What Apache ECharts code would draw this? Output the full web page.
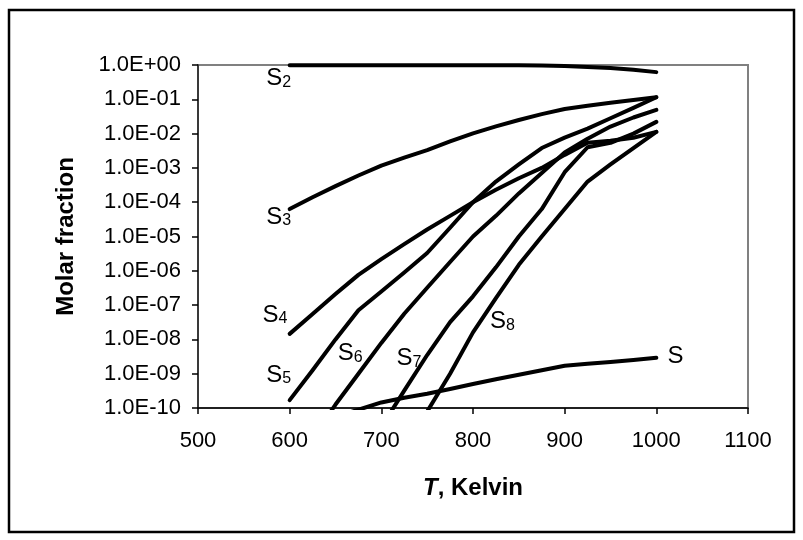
<!DOCTYPE html>
<html><head><meta charset="utf-8">
<script src="https://cdn.jsdelivr.net/npm/echarts@6/dist/echarts.min.js"></script>
<style>html,body{margin:0;padding:0;background:#fff}#c{width:803px;height:540px}</style>
</head><body><div id="c"></div>
<script>
// Temperature grid (K)
const temps = [600,625,650,675,700,725,750,775,800,825,850,875,900,925,950,975,1000];
// Molar fractions (null = not drawn)
const S2 = [0.98,0.98,0.98,0.98,0.98,0.98,0.98,0.98,0.98,0.98,0.98,0.97,0.93,0.88,0.82,0.73,0.62];
const S3 = [6.3e-5,1.4e-4,2.95e-4,6.0e-4,1.17e-3,2.0e-3,3.3e-3,5.9e-3,1.02e-2,1.62e-2,2.5e-2,3.7e-2,5.2e-2,6.5e-2,7.9e-2,9.5e-2,1.15e-1];
const S4 = [1.45e-8,5.5e-8,2.1e-7,7.6e-7,2.2e-6,6.0e-6,1.6e-5,4.0e-5,1.0e-4,2.3e-4,5.0e-4,1.0e-3,2.4e-3,5.4e-3,6.2e-3,7.6e-3,1.12e-2];
const S5 = [1.7e-10,1.26e-9,1.0e-8,7.1e-8,2.5e-7,8.9e-7,3.3e-6,1.8e-5,1.0e-4,4.0e-4,1.26e-3,3.8e-3,7.6e-3,1.4e-2,2.8e-2,5.6e-2,1.15e-1];
const S6 = [null,1.3e-11,1.26e-10,1.0e-9,7.9e-9,5.6e-8,3.2e-7,1.8e-6,1.0e-5,4.0e-5,1.8e-4,7.1e-4,2.8e-3,7.1e-3,1.6e-2,2.95e-2,4.9e-2];
const S7 = [null,null,null,null,2.8e-11,3.2e-10,3.5e-9,3.2e-8,1.8e-7,1.26e-6,1.0e-5,6.3e-5,7.5e-4,4.0e-3,5.4e-3,1.0e-2,2.2e-2];
const S8 = [null,null,null,null,null,6.3e-12,7.9e-11,1.0e-9,1.6e-8,1.6e-7,1.5e-6,1.0e-5,6.3e-5,4.0e-4,1.26e-3,3.8e-3,1.12e-2];
const S1 = [null,null,5.6e-11,8.9e-11,1.45e-10,2.0e-10,2.6e-10,3.6e-10,5.0e-10,6.9e-10,9.3e-10,1.26e-9,1.7e-9,1.95e-9,2.2e-9,2.5e-9,2.9e-9];
// Tick labels
const xTicks = [500,600,700,800,900,1000,1100];
const yTickLabels = ['1.0E-10','1.0E-09','1.0E-08','1.0E-07','1.0E-06','1.0E-05','1.0E-04','1.0E-03','1.0E-02','1.0E-01','1.0E+00'];
// Series names and their subscripts
const seriesNames = ['S2','S3','S4','S5','S6','S7','S8','S'];
const seriesSubs  = ['2','3','4','5','6','7','8',''];
const seriesData  = [S2,S3,S4,S5,S6,S7,S8,S1];
// Curve label anchors in data coordinates [T, fraction]
const labelAnchors = [[588,Math.pow(10,-0.39)],[588,Math.pow(10,-4.43)],[584,Math.pow(10,-7.29)],[588,Math.pow(10,-9.04)],[666,Math.pow(10,-8.41)],[730,Math.pow(10,-8.56)],[832,Math.pow(10,-7.48)],[1021,Math.pow(10,-8.50)]];

const FONT = "'Liberation Sans', Arial, sans-serif";
const rich = {
  s: {fontSize: 24, lineHeight: 24, fontFamily: FONT, color: '#000', verticalAlign: 'top'},
  b: {fontSize: 16, lineHeight: 16, fontFamily: FONT, color: '#000', verticalAlign: 'bottom', padding: [12,0,0,0]}
};

const series = seriesNames.map((name, k) => ({
  name: name,
  type: 'line',
  showSymbol: false,
  symbol: 'none',
  smooth: false,
  connectNulls: false,
  clip: true,
  lineStyle: {color: '#000', width: 4, cap: 'round', join: 'round'},
  data: temps.map((t, i) => seriesData[k][i] == null ? null : [t, seriesData[k][i]]).filter(d => d),
  markPoint: {
    symbol: 'rect', symbolSize: 0, silent: true, animation: false,
    label: {
      show: true, position: 'inside',
      formatter: seriesSubs[k] ? '{s|S}{b|' + seriesSubs[k] + '}' : '{s|S}',
      rich: rich
    },
    data: [{coord: labelAnchors[k]}]
  }
}));

const chart = echarts.init(document.getElementById('c'), null, {renderer: 'canvas'});
chart.setOption({
  animation: false,
  backgroundColor: '#fff',
  grid: {left: 198, right: 55, top: 65, bottom: 132, show: true, borderColor: '#808080', borderWidth: 2, backgroundColor: 'transparent'},
  xAxis: {
    type: 'value', min: xTicks[0], max: xTicks[xTicks.length-1], interval: 100,
    axisLine: {show: true, onZero: false, lineStyle: {color: '#000', width: 1.5}},
    axisTick: {show: true, inside: false, length: 6, lineStyle: {color: '#000', width: 1.5}},
    axisLabel: {fontSize: 22, color: '#000', fontFamily: FONT, margin: 22, formatter: v => String(v)},
    splitLine: {show: false},
    name: '{i|T}, Kelvin',
    nameLocation: 'middle', nameGap: 68,
    nameTextStyle: {fontSize: 24, fontWeight: 'bold', color: '#000', fontFamily: FONT,
      rich: {i: {fontSize: 24, fontWeight: 'bold', fontStyle: 'italic', color: '#000', fontFamily: FONT}}}
  },
  yAxis: {
    type: 'log', logBase: 10, min: 1e-10, max: 1, interval: 1,
    axisLine: {show: true, lineStyle: {color: '#222', width: 1.5}},
    axisTick: {show: true, inside: false, length: 6, lineStyle: {color: '#000', width: 1.5}},
    axisLabel: {fontSize: 22, color: '#000', fontFamily: FONT, margin: 17,
      formatter: v => yTickLabels[Math.round(Math.log10(v)) + 10]},
    splitLine: {show: false},
    name: 'Molar fraction',
    nameLocation: 'middle', nameGap: 120,
    nameTextStyle: {fontSize: 24, fontWeight: 'bold', color: '#000', fontFamily: FONT}
  },
  graphic: [{
    type: 'rect', z: 100, silent: true,
    shape: {x: 9, y: 10, width: 785, height: 522},
    style: {fill: null, stroke: '#000', lineWidth: 2.5}
  }],
  series: series
});
</script></body></html>
